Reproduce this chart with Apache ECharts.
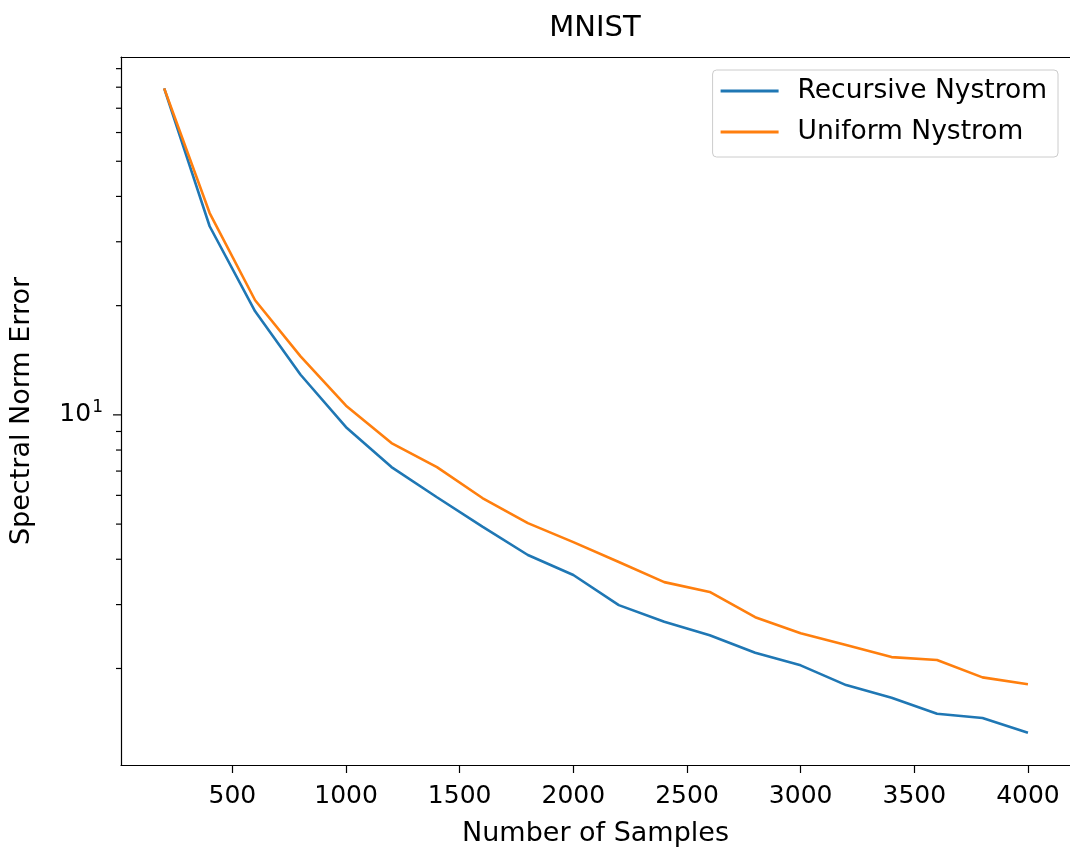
<!DOCTYPE html>
<html>
<head>
<meta charset="utf-8">
<script src="https://cdn.jsdelivr.net/npm/echarts@6/dist/echarts.min.js"></script>
<style>
  html, body { margin: 0; padding: 0; background: #ffffff; }
  #chart { width: 1070px; height: 852px; }
</style>
</head>
<body>
<div id="chart"></div>
<script>
// ---- data ----
var samples = [200, 400, 600, 800, 1000, 1200, 1400, 1600, 1800, 2000, 2200, 2400, 2600, 2800, 3000, 3200, 3400, 3600, 3800, 4000];
var recursiveNystrom = [79.4, 33.1, 19.3, 12.9, 9.25, 7.18, 5.93, 4.92, 4.11, 3.62, 2.99, 2.69, 2.47, 2.21, 2.04, 1.80, 1.66, 1.50, 1.46, 1.33];
var uniformNystrom = [79.4, 36.0, 20.7, 14.5, 10.6, 8.36, 7.18, 5.90, 5.03, 4.46, 3.93, 3.46, 3.25, 2.77, 2.50, 2.32, 2.15, 2.11, 1.89, 1.81];
var seriesNames = ['Recursive Nystrom', 'Uniform Nystrom'];
var xTickValues = [500, 1000, 1500, 2000, 2500, 3000, 3500, 4000];
var yMajorTicks = [10];
var yMinorTicks = [2, 3, 4, 5, 6, 7, 8, 9, 20, 30, 40, 50, 60, 70, 80, 90];
var X_MIN = 10, X_MAX = 4185;
var Y_MIN = 1.084, Y_MAX = 96.9;

var FONT = 'DejaVu Sans';
var chart = echarts.init(document.getElementById('chart'), null, { renderer: 'canvas' });

function tickSeries(values, len) {
  return {
    type: 'custom',
    coordinateSystem: 'cartesian2d',
    silent: true,
    clip: false,
    z: 10,
    data: values.map(function (v) { return [X_MIN, v]; }),
    renderItem: function (params, api) {
      var p = api.coord([api.value(0), api.value(1)]);
      return {
        type: 'line',
        shape: { x1: p[0] - len, y1: p[1], x2: p[0], y2: p[1] },
        style: { stroke: '#000', lineWidth: 1.2 }
      };
    }
  };
}

var spine = { show: true, lineStyle: { color: '#000', width: 1.2 } };

var option = {
  backgroundColor: '#ffffff',
  animation: false,
  title: {
    text: 'MNIST',
    left: 590, textAlign: 'center',
    top: 9,
    textStyle: { fontFamily: FONT, fontSize: 29, fontWeight: 'normal', color: '#000' }
  },
  legend: {
    data: seriesNames,
    orient: 'vertical',
    right: 12, top: 70,
    padding: [6, 11, 10, 8],
    itemGap: 11,
    itemWidth: 58, itemHeight: 3,
    icon: 'rect',
    backgroundColor: 'rgba(255,255,255,0.8)',
    borderColor: '#cccccc', borderWidth: 1, borderRadius: 4,
    textStyle: { fontFamily: FONT, fontSize: 26.5, color: '#000', lineHeight: 30, padding: [0, 0, 0, 14] }
  },
  grid: {
    left: 120, right: 0, top: 57, bottom: 87,
    show: false
  },
  xAxis: [{
    type: 'value',
    min: X_MIN, max: X_MAX,
    name: 'Number of Samples',
    nameLocation: 'middle', nameGap: 55,
    nameTextStyle: { fontFamily: FONT, fontSize: 27, color: '#000' },
    axisLine: spine,
    splitLine: { show: false },
    axisTick: { show: true, length: 8, customValues: xTickValues, lineStyle: { color: '#000', width: 1.2 } },
    axisLabel: {
      customValues: xTickValues, margin: 19, fontFamily: FONT, fontSize: 25, color: '#000',
      formatter: function (v) { return String(v); }
    }
  }, {
    type: 'value', position: 'top',
    min: X_MIN, max: X_MAX,
    axisLine: spine,
    splitLine: { show: false },
    axisTick: { show: false },
    axisLabel: { show: false }
  }],
  yAxis: {
    type: 'log', logBase: 10,
    min: Y_MIN, max: Y_MAX,
    name: 'Spectral Norm Error',
    nameLocation: 'middle', nameGap: 86,
    nameTextStyle: { fontFamily: FONT, fontSize: 27, color: '#000' },
    axisLine: spine,
    splitLine: { show: false },
    axisTick: { show: false },
    minorTick: { show: false },
    axisLabel: {
      showMinLabel: false, showMaxLabel: false,
      margin: 18,
      formatter: function (v) {
        for (var i = 0; i < yMajorTicks.length; i++) {
          if (Math.abs(v - yMajorTicks[i]) < 1e-6) {
            var e = Math.round(Math.log(v) / Math.LN10);
            return '{b|10}{s|' + e + '}';
          }
        }
        return '';
      },
      rich: {
        b: { fontFamily: FONT, fontSize: 25, color: '#000' },
        s: { fontFamily: FONT, fontSize: 17, color: '#000', padding: [0, 0, 15, 1] }
      }
    }
  },
  series: [
    {
      name: seriesNames[0], type: 'line',
      data: samples.map(function (x, i) { return [x, recursiveNystrom[i]]; }),
      showSymbol: false, symbol: 'none',
      lineStyle: { color: '#1f77b4', width: 2.6 }, itemStyle: { color: '#1f77b4' },
      z: 3
    },
    {
      name: seriesNames[1], type: 'line',
      data: samples.map(function (x, i) { return [x, uniformNystrom[i]]; }),
      showSymbol: false, symbol: 'none',
      lineStyle: { color: '#ff7f0e', width: 2.6 }, itemStyle: { color: '#ff7f0e' },
      z: 4
    },
    tickSeries(yMajorTicks, 8),
    tickSeries(yMinorTicks, 5)
  ]
};
chart.setOption(option);
</script>
</body>
</html>
